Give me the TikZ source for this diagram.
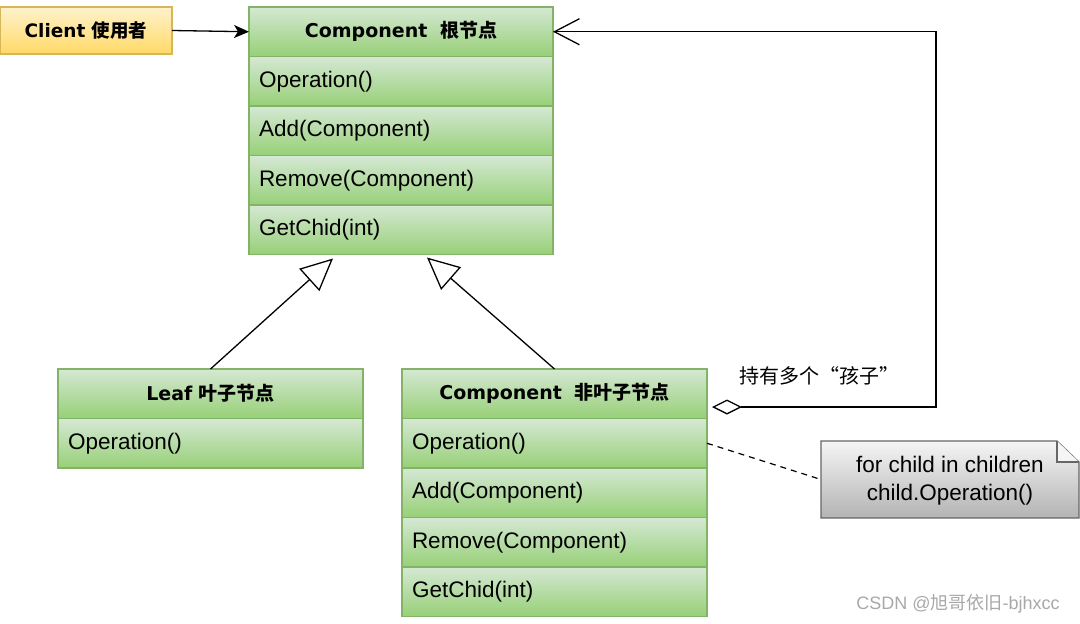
\documentclass[tikz,border=0pt]{standalone}
\usepackage{fontspec}
\setmainfont{Liberation Sans}
\newfontfamily\cjk{Noto Sans CJK SC}
\newfontfamily\hdr{DejaVu Sans}
\usetikzlibrary{arrows.meta,calc,backgrounds}
\definecolor{gtop}{HTML}{D5E8D4}
\definecolor{gbot}{HTML}{97D077}
\definecolor{gborder}{HTML}{82B366}
\definecolor{ytop}{HTML}{FFF2CC}
\definecolor{ybot}{HTML}{FFD966}
\definecolor{yborder}{HTML}{D6B656}
\definecolor{ntop}{HTML}{F5F5F5}
\definecolor{nbot}{HTML}{B3B3B3}
\definecolor{nborder}{HTML}{666666}
\definecolor{wm}{HTML}{A8A8A8}
\newcommand{\rowfont}{\fontsize{22.5}{27}\selectfont}
\newcommand{\hdrfont}{\fontsize{19}{23}\selectfont\bfseries}
\begin{document}
\begin{tikzpicture}[x=1pt,y=-1pt,
  cellbase/.style={draw=gborder, line width=1.2pt, top color=gtop, bottom color=gbot,
    anchor=north west, minimum height=49.5pt, inner ysep=0pt, inner xsep=10pt, outer sep=0pt},
  cell/.style={cellbase, text width=#1-20pt, align=left, font=\rowfont},
  hcell/.style={cellbase, text width=#1-20pt, align=center, font=\hdrfont},
  conn/.style={line width=1.3pt, draw=black},
  lbl/.style={font=\cjk\fontsize{20}{24}\selectfont}
]
\useasboundingbox (0,0) rectangle (1080,624);

% Client
\node[draw=yborder, line width=1.2pt, top color=ytop, bottom color=ybot, outer sep=0pt,
  anchor=north west, minimum width=172pt, minimum height=47pt, inner sep=0pt,
  font=\fontsize{18.5}{22}\selectfont\bfseries] (client) at (0,7)
  {\hdr Client \cjk 使用者};

% Root component
\node[hcell=304pt] (r0) at (249,7) {\hdr Component~~\cjk 根节点};
\node[cell=304pt] (r1) at (r0.south west) {Operation()};
\node[cell=304pt] (r2) at (r1.south west) {Add(Component)};
\node[cell=304pt] (r3) at (r2.south west) {Remove(Component)};
\node[cell=304pt] (r4) at (r3.south west) {GetChid(int)};

% Leaf
\node[hcell=305pt] (l0) at (58,369) {\hdr Leaf \cjk 叶子节点};
\node[cell=305pt] (l1) at (l0.south west) {Operation()};

% Non-leaf component
\node[hcell=305pt] (n0) at (402,369) {\hdr Component~~\cjk 非叶子节点};
\node[cell=305pt] (n1) at (n0.south west) {Operation()};
\node[cell=305pt] (n2) at (n1.south west) {Add(Component)};
\node[cell=305pt] (n3) at (n2.south west) {Remove(Component)};
\node[cell=305pt] (n4) at (n3.south west) {GetChid(int)};

% Note
\node[minimum width=258pt, minimum height=77pt, inner sep=0pt, outer sep=0pt, align=center,
  font=\fontsize{22.5}{28}\selectfont] (note) at (950,481)
  {for child in children\\child.Operation()};
\begin{scope}[on background layer]
  \shade[top color=ntop, bottom color=nbot, draw=nborder, line width=1.2pt]
    ($(note.north west)+(0,-1.5)$) -- ($(note.north east)+(-22,-1.5)$) -- ($(note.north east)+(0,19.5)$)
    -- ($(note.south east)+(0,-1.5)$) -- ($(note.south west)+(0,-1.5)$) -- cycle;
  \draw[draw=nborder, line width=1.2pt, fill=ntop]
    ($(note.north east)+(-22,-1.5)$) -- ($(note.north east)+(-22,19.5)$) -- ($(note.north east)+(0,19.5)$);
\end{scope}

% Connectors
\draw[conn, -{Stealth[length=15pt,width=13pt,inset=4pt]}] (client.east) -- (r0.west);

\coordinate (tipL) at ($(r4.south west)+(84,4)$);
\coordinate (tipN) at ($(r4.south west)+(178,3)$);
\draw[conn, -{Triangle[open,length=32pt,width=30pt]}] (l0.north) -- (tipL);
\draw[conn, -{Triangle[open,length=32pt,width=30pt]}] (n0.north) -- (tipN);

\coordinate (agg) at ($(n0.north east)+(5,38)$);
\coordinate (corner) at ($(r0.east)+(383,0)$);
\draw[conn, {Diamond[open,length=30pt,width=15pt]}-{Straight Barb[length=25pt,width=26pt]}]
  (agg) -| (corner) -- (r0.east);
\node[lbl] (holdlbl) at (819,376) {持有多个“孩子”};

\draw[line width=1.2pt, dashed, dash pattern=on 6pt off 5pt] (n1.east) -- ($(note.west)+(0,-1.5)$);

% Watermark
\node[text=wm, font=\fontsize{18}{21}\selectfont] (wmk) at (958,604) {CSDN @{\cjk 旭哥依旧}-bjhxcc};
\end{tikzpicture}
\end{document}
